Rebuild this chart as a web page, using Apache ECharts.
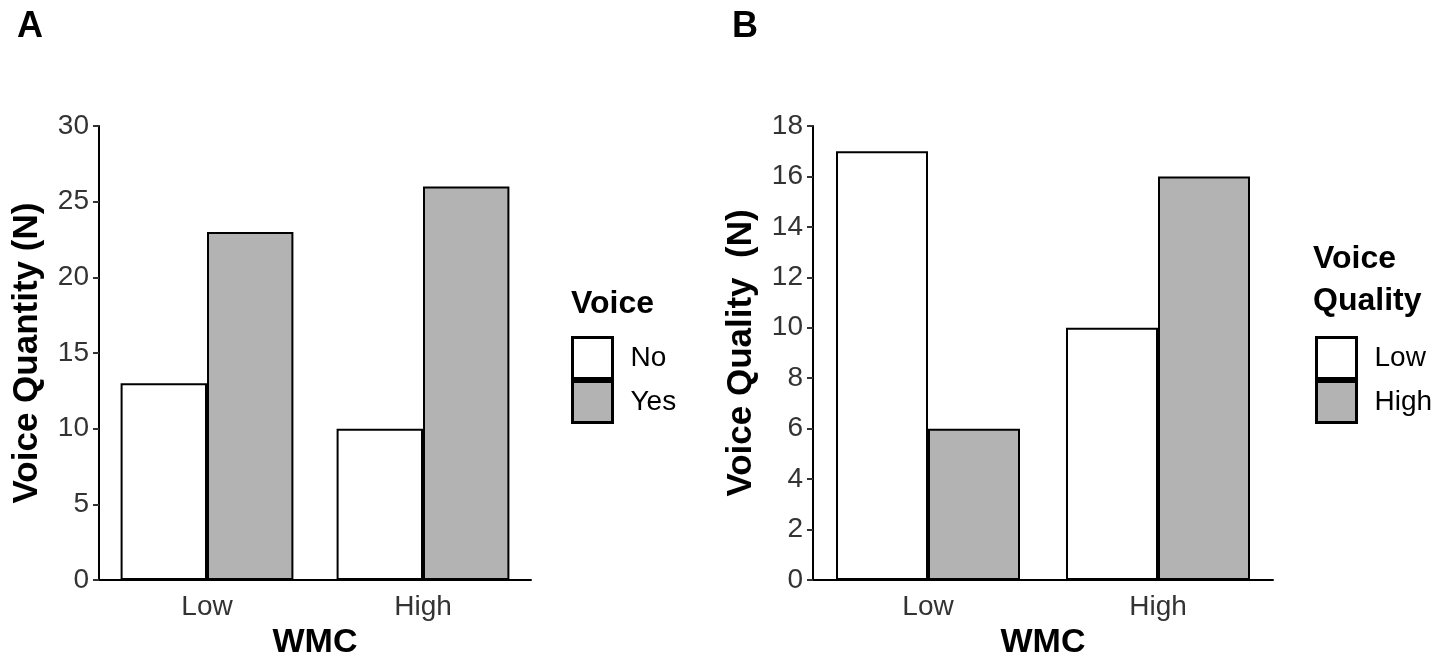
<!DOCTYPE html>
<html><head><meta charset="utf-8">
<script src="https://cdn.jsdelivr.net/npm/echarts@6/dist/echarts.min.js"></script>
<style>html,body{margin:0;padding:0;background:#fff}#c{width:1449px;height:654px}</style>
</head><body><div id="c"></div>
<script>
const categories = ['Low', 'High'];
const quantityNo = [13, 10];
const quantityYes = [23, 26];
const qualityLow = [17, 10];
const qualityHigh = [6, 16];
const ticksA = {min: 0, max: 30, interval: 5};
const ticksB = {min: 0, max: 18, interval: 2};

const F = 'Liberation Sans, Arial, Helvetica, sans-serif';
const chart = echarts.init(document.getElementById('c'), null, {renderer: 'canvas'});

function xAxis(idx) {
  return {
    type: 'category', gridIndex: idx, data: categories, boundaryGap: true,
    axisLine: {lineStyle: {color: '#000', width: 2}},
    axisTick: {show: false},
    axisLabel: {color: '#333', fontSize: 28, fontFamily: F, margin: 13},
    name: 'WMC', nameLocation: 'middle', nameGap: 42,
    nameTextStyle: {color: '#000', fontSize: 34, fontWeight: 'bold', fontFamily: F}
  };
}
function yAxis(idx, t, name) {
  return {
    type: 'value', gridIndex: idx, min: t.min, max: t.max, interval: t.interval,
    axisLine: {show: true, lineStyle: {color: '#000', width: 2}},
    axisTick: {show: true, length: 6, lineStyle: {color: '#333', width: 2}},
    splitLine: {show: false},
    axisLabel: {color: '#333', fontSize: 28, fontFamily: F, margin: 10},
    name: name, nameLocation: 'middle', nameGap: 54, nameRotate: 90,
    nameTextStyle: {color: '#000', fontSize: 35, fontWeight: 'bold', fontFamily: F}
  };
}
function bar(name, data, idx, color) {
  return {
    name: name, type: 'bar', xAxisIndex: idx, yAxisIndex: idx, data: data,
    barGap: '0%', barCategoryGap: '20%',
    itemStyle: {color: color, borderColor: '#000', borderWidth: 2},
    emphasis: {disabled: true}, animation: false
  };
}
function legend(names, left, top) {
  return {
    data: names, orient: 'vertical', left: left, top: top, padding: 0,
    itemWidth: 40, itemHeight: 41, itemGap: 0,
    itemStyle: {borderColor: '#000', borderWidth: 3},
    textStyle: {color: '#000', fontSize: 28, fontFamily: F, padding: [0, 0, 0, 13]},
    selectedMode: false, icon: 'rect'
  };
}

chart.setOption({
  animation: false,
  grid: [
    {left: 99, right: 918, top: 126, bottom: 74, outerBoundsMode: 'none', containLabel: false},
    {left: 813, right: 176, top: 126, bottom: 74, outerBoundsMode: 'none', containLabel: false}
  ],
  xAxis: [xAxis(0), xAxis(1)],
  yAxis: [yAxis(0, ticksA, 'Voice Quantity (N)'), yAxis(1, ticksB, 'Voice Quality  (N)')],
  legend: [legend(['No', 'Yes'], 571, 336), legend(['Low', 'High'], 1315, 336)],
  series: [
    bar('No', quantityNo, 0, '#ffffff'),
    bar('Yes', quantityYes, 0, '#b3b3b3'),
    bar('Low', qualityLow, 1, '#ffffff'),
    bar('High', qualityHigh, 1, '#b3b3b3')
  ],
  graphic: [
    {type: 'text', left: 17, top: 9, style: {text: 'A', font: 'bold 36px ' + F, fill: '#000'}},
    {type: 'text', left: 732, top: 9, style: {text: 'B', font: 'bold 36px ' + F, fill: '#000'}},
    {type: 'text', left: 571, top: 288, style: {text: 'Voice', font: 'bold 32px ' + F, fill: '#000'}},
    {type: 'text', left: 1313, top: 238, style: {text: 'Voice\nQuality', font: 'bold 32px ' + F, lineHeight: 42, fill: '#000'}}
  ]
});
</script></body></html>
